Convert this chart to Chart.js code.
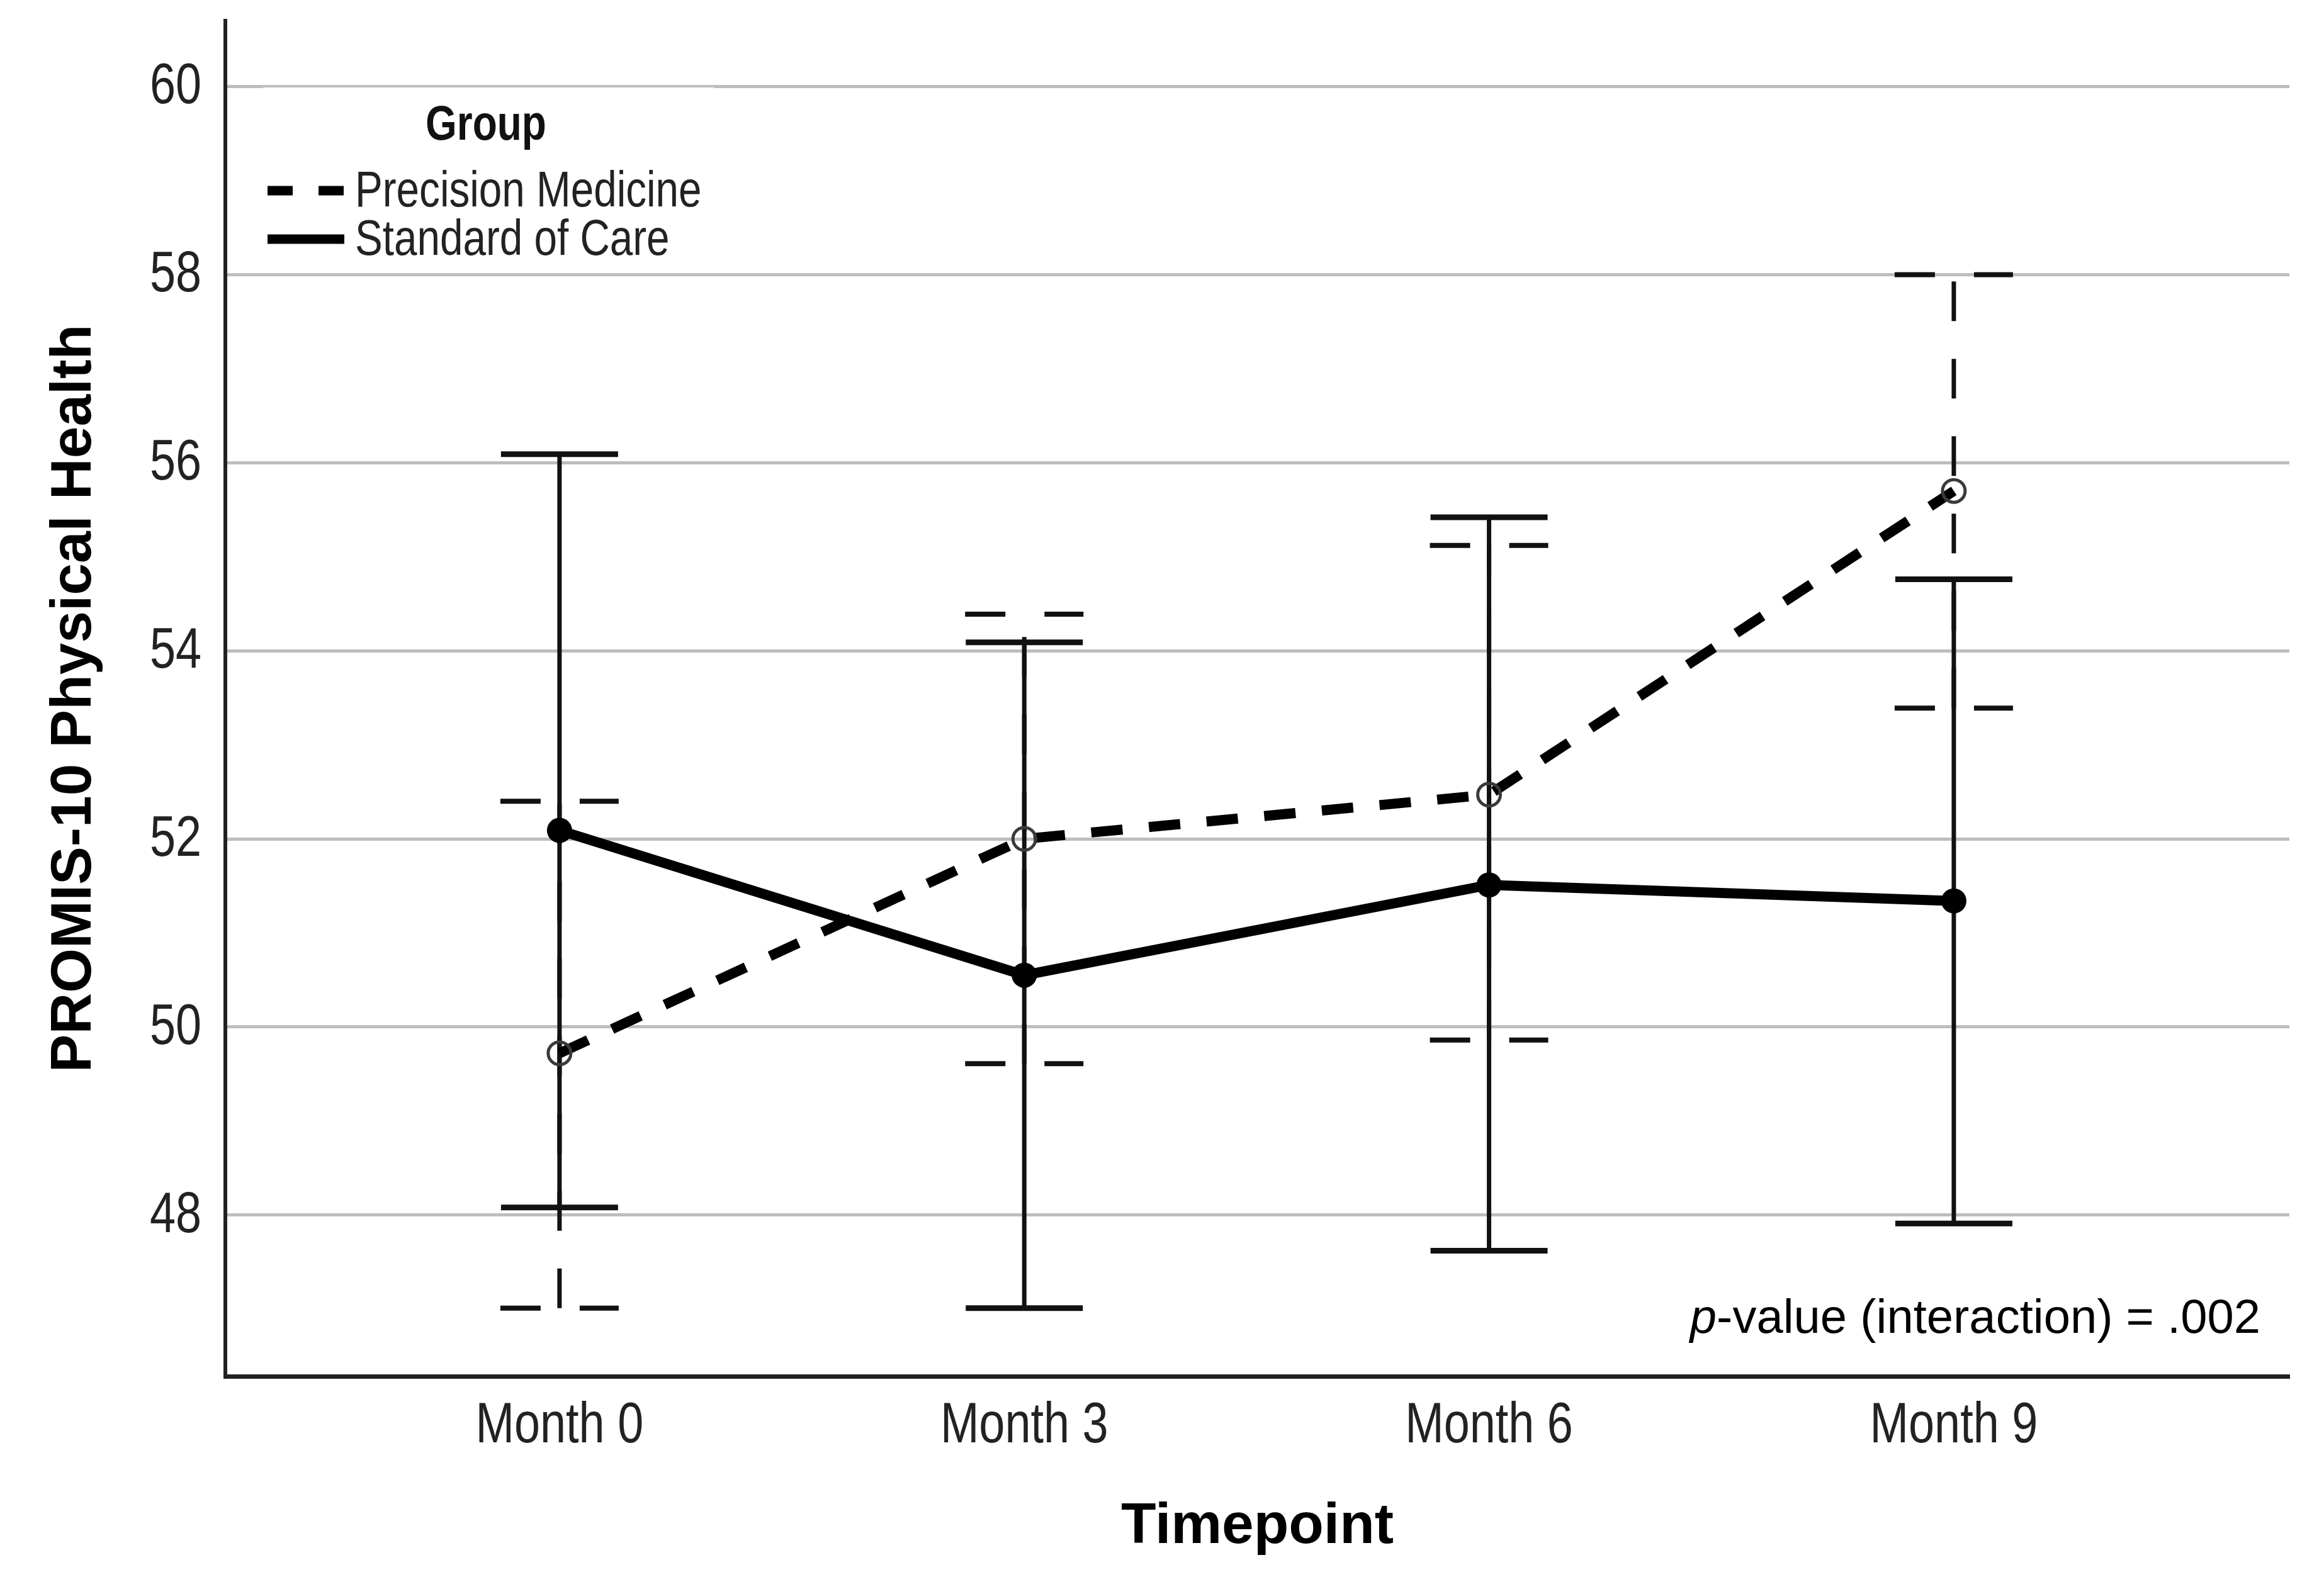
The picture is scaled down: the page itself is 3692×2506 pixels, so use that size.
<!DOCTYPE html>
<html>
<head>
<meta charset="utf-8">
<script src="https://cdn.jsdelivr.net/npm/chart.js@4.4.1/dist/chart.umd.min.js"></script>
<style>
  html, body { margin:0; padding:0; background:#fff; }
  canvas { display:block; }
</style>
</head>
<body>
<canvas id="c" width="3692" height="2506" style="width:3692px;height:2506px"></canvas>
<script>
// data
const timepoints = ['Month 0', 'Month 3', 'Month 6', 'Month 9'];
const yTicks = [48, 50, 52, 54, 56, 58, 60];

const pmMean = [49.72, 52.00, 52.47, 55.70];
const pmLow  = [47.01, 49.61, 49.86, 53.39];
const pmHigh = [52.40, 54.39, 55.12, 58.00];

const socMean = [52.09, 50.55, 51.51, 51.34];
const socLow  = [48.08, 47.01, 47.62, 47.91];
const socHigh = [56.09, 54.09, 55.42, 54.76];

const SANS = "'Liberation Sans', Arial, sans-serif";
const NARROW_X = 0.82;   // no Arial Narrow here, squeeze Liberation Sans instead

function pts(vals){ return vals.map((v,i)=>({ x:i, y:v })); }

function narrowText(ctx, text, x, y, align, font){
    ctx.save();
    ctx.translate(x, y);
    ctx.scale(NARROW_X, 1);
    ctx.font = font;
    ctx.textAlign = align;
    ctx.fillText(text, 0, 0);
    ctx.restore();
}

// error bars drawn under the lines (stroked bottom -> top, like the original)
const errorBars = {
    id: 'errorBars',
    beforeDatasetsDraw(chart){
        const { ctx, scales:{ x, y } } = chart;
        chart.data.datasets.forEach(ds=>{
            const e = ds.errBar;
            if (!e) return;
            ctx.save();
            ctx.strokeStyle = e.color;
            ctx.lineCap = 'butt';
            for (let i=0;i<ds.data.length;i++){
                const px = x.getPixelForValue(i);
                const top = y.getPixelForValue(e.high[i]);
                const bot = y.getPixelForValue(e.low[i]);
                ctx.lineWidth = e.lineWidth;
                ctx.setLineDash(e.dash);
                ctx.lineDashOffset = 0;
                ctx.beginPath(); ctx.moveTo(px, bot); ctx.lineTo(px, top); ctx.stroke();
                ctx.lineWidth = e.capWidth;
                ctx.setLineDash(e.capDash);
                [top, bot].forEach(py=>{
                    ctx.beginPath(); ctx.moveTo(px - e.capHalf, py); ctx.lineTo(px + e.capHalf, py); ctx.stroke();
                });
            }
            ctx.restore();
        });
    }
};

// tick labels in a narrow face, placed from the scales
const narrowTicks = {
    id: 'narrowTicks',
    afterDraw(chart){
        const { ctx, scales:{ x, y } } = chart;
        const font = "90px " + SANS;
        ctx.save();
        ctx.fillStyle = '#222';
        ctx.textBaseline = 'middle';
        y.ticks.forEach(t=>{
            narrowText(ctx, String(t.value), y.right - 38, y.getPixelForValue(t.value) + 2, 'right', font);
        });
        ctx.textBaseline = 'alphabetic';
        x.ticks.forEach(t=>{
            narrowText(ctx, timepoints[t.value], x.getPixelForValue(t.value), x.top + 105, 'center', font);
        });
        ctx.restore();
    }
};

// legend box inside the plot + p-value note
const notes = {
    id: 'notes',
    afterDatasetsDraw(chart){
        const { ctx, chartArea:a } = chart;
        ctx.save();
        ctx.fillStyle = '#fff';
        ctx.fillRect(a.left + 60, a.top + 106, 717, 285);

        ctx.fillStyle = '#111';
        ctx.textBaseline = 'alphabetic';
        narrowText(ctx, 'Group', a.left + 414, a.top + 189, 'center', "bold 78px " + SANS);

        const rows = [ { ds: chart.data.datasets[0], y: a.top + 270 }, { ds: chart.data.datasets[1], y: a.top + 347 } ];
        rows.forEach(r=>{
            ctx.strokeStyle = '#000';
            ctx.lineWidth = 15;
            ctx.lineCap = 'butt';
            ctx.setLineDash(r.ds.legendDash);
            ctx.beginPath(); ctx.moveTo(a.left + 67, r.y); ctx.lineTo(a.left + 189, r.y); ctx.stroke();
            ctx.setLineDash([]);
            ctx.fillStyle = '#222';
            ctx.textBaseline = 'middle';
            narrowText(ctx, r.ds.label, a.left + 206, r.y + 3, 'left', "80px " + SANS);
        });

        // p-value annotation
        ctx.textBaseline = 'alphabetic';
        ctx.textAlign = 'left';
        ctx.fillStyle = '#000';
        const rest = '-value (interaction) = .002';
        ctx.font = "76px " + SANS;
        const wRest = ctx.measureText(rest).width;
        ctx.font = "italic 76px " + SANS;
        const wP = ctx.measureText('p').width;
        const right = a.right - 46, base = a.bottom - 69;
        ctx.fillText('p', right - wRest - wP, base);
        ctx.font = "76px " + SANS;
        ctx.fillText(rest, right - wRest, base);
        ctx.restore();
    }
};

const chart = new Chart(document.getElementById('c'), {
    type: 'line',
    data: {
        datasets: [
            {
                label: 'Precision Medicine',
                data: pts(pmMean),
                borderColor: '#000',
                borderWidth: 16,
                borderDash: [50, 42],
                borderCapStyle: 'butt',
                pointRadius: 18,
                pointBorderWidth: 5,
                pointBorderColor: '#3a3a3a',
                pointBackgroundColor: 'rgba(0,0,0,0)',
                legendDash: [40, 41],
                errBar: { low: pmLow, high: pmHigh, color: '#111', lineWidth: 7, dash: [63, 60], capWidth: 8, capDash: [64, 62], capHalf: 94 }
            },
            {
                label: 'Standard of Care',
                data: pts(socMean),
                borderColor: '#000',
                borderWidth: 16,
                pointRadius: 20,
                pointBorderWidth: 0,
                pointBackgroundColor: '#000',
                legendDash: [],
                errBar: { low: socLow, high: socHigh, color: '#111', lineWidth: 7, dash: [], capWidth: 9, capDash: [], capHalf: 93 }
            }
        ]
    },
    options: {
        responsive: false,
        devicePixelRatio: 1,
        animation: false,
        layout: { padding: { top: 33, right: 55, left: 0, bottom: 0 } },
        plugins: { legend: { display:false }, tooltip: { enabled:false } },
        elements: { line: { tension: 0 } },
        scales: {
            x: {
                type: 'linear',
                min: -0.719,
                max: 3.722,
                afterBuildTicks: s => { s.ticks = timepoints.map((_,i)=>({ value:i })); },
                afterFit: s => { s.height = 2506 - 2187; s.paddingLeft = 0; s.paddingRight = 0; },
                grid: { display:false, drawTicks:false },
                border: { display:true, color:'#222', width:7 },
                ticks: { display:false, callback: v => timepoints[v] },
                title: { display:true, text:'Timepoint', color:'#000', font:{ family: SANS, size: 91, weight:'bold' }, padding:{ top:0, bottom: 24 } }
            },
            y: {
                min: 46.285,
                max: 60.70,
                afterBuildTicks: s => { s.ticks = yTicks.map(v=>({ value:v })); },
                afterFit: s => { s.width = 358; s.paddingTop = 0; s.paddingBottom = 0; },
                grid: { color:'#bdbdbd', lineWidth:5, drawTicks:false },
                border: { display:true, color:'#222', width:6 },
                ticks: { display:false },
                title: { display:true, text:'PROMIS-10 Physical Health', color:'#000', font:{ family: SANS, size: 91, weight:'bold' }, padding:{ top: 64, bottom:0 } }
            }
        }
    },
    plugins: [errorBars, narrowTicks, notes]
});
</script>
</body>
</html>
